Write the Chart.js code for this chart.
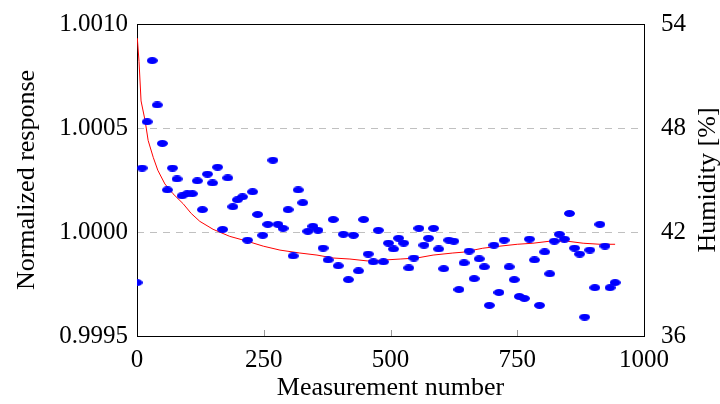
<!DOCTYPE html>
<html>
<head>
<meta charset="utf-8">
<script src="https://cdn.jsdelivr.net/npm/chart.js@4.4.1/dist/chart.umd.min.js"></script>
<style>
  html, body { margin: 0; padding: 0; background: #fff; }
  #wrap { width: 720px; height: 404px; }
</style>
</head>
<body>
<div id="wrap"><canvas id="myChart" width="720" height="404"></canvas></div>
<script>
// data
const xTicks = [0, 250, 500, 750, 1000];
const respTicks = [0.9995, 1.0000, 1.0005, 1.0010];
const humTicks = [36, 42, 48, 54];

// normalized response (red line)
const respX = [0, 1, 4, 8, 16, 22, 32, 41, 55, 71, 91, 107, 124, 150, 183, 217, 249, 282,
  321, 355, 387, 420, 454, 485, 519, 552, 584, 623, 643, 682, 716, 750, 781, 815, 848, 880, 913, 943];
const respY = [1.00093, 1.00092, 1.00082, 1.00063, 1.000535, 1.00044, 1.000359, 1.000297,
  1.000231, 1.000184, 1.000136, 1.000089, 1.000051, 1.000013, 0.999979, 0.999956, 0.999932,
  0.999913, 0.999899, 0.999889, 0.999875, 0.99987, 0.999861, 0.999865, 0.99987, 0.999875,
  0.999889, 0.999899, 0.999903, 0.999922, 0.999932, 0.999941, 0.999946, 0.999956, 0.999956,
  0.999946, 0.999941, 0.999941];

// humidity (blue markers)
const humX = [0, 10, 20, 30, 40, 50, 60, 70, 79, 89, 99, 109, 119, 129, 139, 149, 159, 169, 179, 189,
  198, 208, 218, 228, 238, 248, 258, 268, 278, 288, 298, 308, 318, 327, 337, 347, 357, 367, 377, 387,
  397, 407, 417, 427, 437, 447, 456, 466, 476, 486, 496, 506, 516, 526, 536, 546, 556, 566, 575, 585,
  595, 605, 615, 625, 635, 645, 655, 665, 675, 685, 695, 704, 714, 724, 734, 744, 754, 764, 774, 784,
  794, 804, 814, 823, 833, 843, 853, 863, 873, 883, 893, 903, 913, 923, 933, 943];
const humY = [39.08, 45.69, 48.36, 51.89, 49.33, 47.11, 44.43, 45.69, 45.06, 44.09,
  44.21, 44.21, 44.95, 43.29, 45.34, 44.83, 45.74, 42.15, 45.12, 43.46,
  43.86, 44.03, 41.53, 44.32, 43.01, 41.81, 42.44, 46.14, 42.44, 42.21,
  43.29, 40.62, 44.43, 43.69, 42.04, 42.33, 42.10, 41.07, 40.39, 42.72,
  40.05, 41.87, 39.25, 41.81, 39.76, 42.72, 40.73, 40.28, 42.10, 40.28,
  41.36, 41.02, 41.64, 41.36, 39.93, 40.50, 42.21, 41.24, 41.64, 42.21,
  41.02, 39.88, 41.53, 41.47, 38.68, 40.22, 40.90, 39.31, 40.45, 39.99,
  37.77, 41.24, 38.51, 41.53, 39.99, 39.25, 38.28, 38.17, 41.59, 40.39,
  37.77, 40.85, 39.59, 41.47, 41.87, 41.59, 43.07, 41.07, 40.73, 37.09,
  40.96, 38.79, 42.44, 41.19, 38.79, 39.08];

const FONT = "'Liberation Serif', 'Times New Roman', serif";

// elliptic marker
const mark = document.createElement('canvas');
mark.width = 11; mark.height = 7;
const mctx = mark.getContext('2d');
mctx.fillStyle = '#0000ff';
mctx.beginPath();
mctx.ellipse(5.5, 3.5, 5.5, 3.5, 0, 0, Math.PI * 2);
mctx.fill();

// box, inner ticks and right title
const boxPlugin = {
  id: 'box',
  beforeDatasetsDraw(chart) {
    const { ctx, chartArea: a, scales } = chart;
    ctx.save();
    ctx.strokeStyle = '#999';
    ctx.lineWidth = 1;
    ctx.beginPath();
    xTicks.slice(1, -1).forEach(v => {
      const px = Math.round(scales.x.getPixelForValue(v)) + 0.5;
      ctx.moveTo(px, a.bottom);
      ctx.lineTo(px, a.bottom - 6);
    });
    ctx.stroke();
    ctx.strokeStyle = '#000';
    ctx.strokeRect(Math.round(a.left) + 0.5, Math.round(a.top) + 0.5,
      Math.round(a.right - a.left), Math.round(a.bottom - a.top));
    ctx.restore();
  },
  afterDraw(chart) {
    const { ctx, chartArea: a } = chart;
    ctx.save();
    ctx.translate(708, (a.top + a.bottom) / 2);
    ctx.rotate(-Math.PI / 2);
    ctx.font = '26px ' + FONT;
    ctx.fillStyle = '#000';
    ctx.textAlign = 'center';
    ctx.textBaseline = 'middle';
    ctx.fillText('Humidity [%]', 0, 0);
    ctx.restore();
  }
};

const data = {
  datasets: [{
    label: 'Humidity',
    type: 'scatter',
    data: humX.map((x, i) => ({ x: x, y: humY[i] })),
    yAxisID: 'y2',
    pointStyle: mark,
    pointRadius: 5,
    clip: { left: 0, top: false, right: false, bottom: false }
  },
  {
    label: 'Normalized response',
    type: 'line',
    data: respX.map((x, i) => ({ x: x, y: respY[i] })),
    yAxisID: 'y',
    borderColor: '#ff0000',
    borderWidth: 1,
    pointRadius: 0,
    tension: 0
  }]
};

const config = {
  type: 'scatter',
  data,
  plugins: [boxPlugin],
  options: {
    responsive: false,
    animation: false,
    layout: { padding: { top: 20, left: 0, right: 0, bottom: 0 } },
    plugins: { legend: { display: false }, tooltip: { enabled: false } },
    scales: {
      x: {
        type: 'linear',
        min: 0, max: 1000,
        afterBuildTicks: s => { s.ticks = xTicks.map(v => ({ value: v })); },
        afterFit: s => { s.height = 68; },
        grid: { display: false },
        border: { display: false },
        ticks: { padding: 1, color: '#000', font: { family: FONT, size: 25 },
          callback: v => String(v) },
        title: { display: true, text: 'Measurement number', color: '#000',
          font: { family: FONT, size: 26 }, padding: { top: 0, bottom: 0 } }
      },
      y: {
        position: 'left',
        min: 0.9995, max: 1.0010,
        afterBuildTicks: s => { s.ticks = respTicks.map(v => ({ value: v })); },
        afterFit: s => { s.width = 137; },
        grid: { color: '#c0c0c0', drawTicks: false },
        border: { display: false, dash: [7, 6] },
        ticks: { padding: 9, color: '#000', font: { family: FONT, size: 25 },
          callback: v => v.toFixed(4) },
        title: { display: true, text: 'Normalized response', color: '#000',
          font: { family: FONT, size: 26 }, padding: { top: 12, bottom: 0 } }
      },
      y2: {
        position: 'right',
        min: 36, max: 54,
        afterBuildTicks: s => { s.ticks = humTicks.map(v => ({ value: v })); },
        afterFit: s => { s.width = 76; },
        grid: { display: false },
        border: { display: false },
        ticks: { padding: 9, color: '#000', font: { family: FONT, size: 25 } }
      }
    }
  }
};

const myChart = new Chart(document.getElementById('myChart'), config);
</script>
</body>
</html>
